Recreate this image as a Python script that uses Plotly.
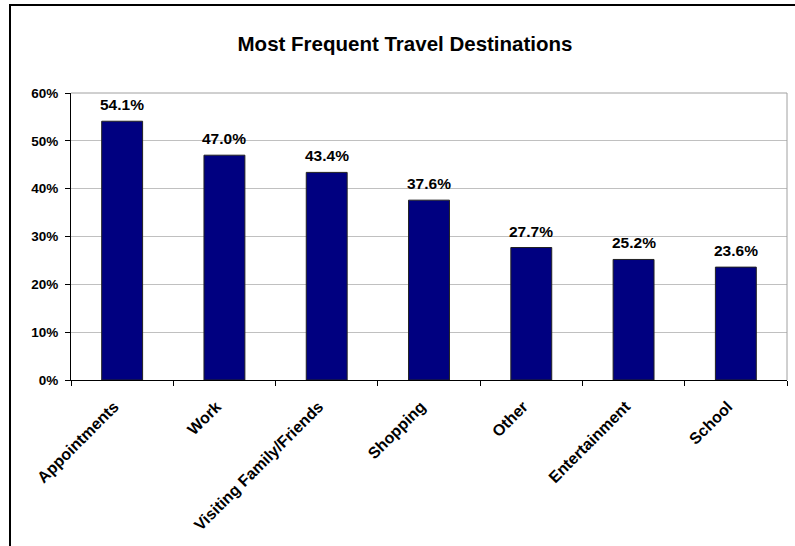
import plotly.graph_objects as go

categories = ["Appointments", "Work", "Visiting Family/Friends", "Shopping", "Other", "Entertainment", "School"]
values = [0.541, 0.470, 0.434, 0.376, 0.277, 0.252, 0.236]
value_labels = ["54.1%", "47.0%", "43.4%", "37.6%", "27.7%", "25.2%", "23.6%"]
y_tickvals = [0, 0.1, 0.2, 0.3, 0.4, 0.5, 0.6]
y_ticktext = ["0%", "10%", "20%", "30%", "40%", "50%", "60%"]

W, H = 795, 546
L, R, T, B = 71, 8, 93, 166
pw, ph = W - L - R, H - T - B

FONT = "Arial, Liberation Sans, sans-serif"

fig = go.Figure(go.Bar(
    x=categories, y=values,
    width=0.4,
    marker=dict(color="#000080", line=dict(color="#222222", width=1)),
))

for c, v, t in zip(categories, values, value_labels):
    fig.add_annotation(x=c, y=v, text=t, showarrow=False, yanchor="bottom",
                       yshift=6, xanchor="center",
                       font=dict(family=FONT, size=15.5, color="black", weight="bold"))

fig.update_layout(
    width=W, height=H,
    margin=dict(l=L, r=R, t=T, b=B),
    paper_bgcolor="white", plot_bgcolor="white",
    showlegend=False,
    title=dict(text="Most Frequent Travel Destinations", x=(236 + 574) / 2 / W, xanchor="center",
               y=1 - 44 / H, yanchor="middle",
               font=dict(family=FONT, size=20.5, color="black", weight="bold")),
    font=dict(family=FONT, color="black"),
)

fig.update_xaxes(
    type="category", tickangle=-45,
    tickfont=dict(family=FONT, size=16, color="black", weight="bold"),
    ticks="outside", tickson="boundaries", ticklen=5, tickcolor="black",
    ticklabelstandoff=10, ticklabelshift=-8,
    showline=True, linecolor="black", linewidth=1,
    mirror=False, showgrid=False,
)
fig.update_yaxes(
    range=[0, 0.6], tickvals=y_tickvals, ticktext=y_ticktext,
    tickfont=dict(family=FONT, size=13.5, color="black", weight="bold"),
    ticks="outside", ticklen=5, tickcolor="black", ticklabelstandoff=4,
    showline=True, linecolor="black", linewidth=1,
    showgrid=True, gridcolor="#c0c0c0", gridwidth=1,
    zeroline=False,
)

# light gray plot-area border on top and right
fig.add_shape(type="line", xref="paper", yref="paper", x0=0, x1=1, y0=1, y1=1,
              line=dict(color="#a0a0a0", width=1))
fig.add_shape(type="line", xref="paper", yref="paper", x0=1, x1=1, y0=0, y1=1,
              line=dict(color="#a0a0a0", width=1))

# outer chart frame (left and top edges visible)
fx0 = (10 - L) / pw
fy1 = (H - B - 5) / ph
fig.add_shape(type="rect", xref="paper", yref="paper",
              x0=fx0, x1=1.5, y0=-2, y1=fy1,
              line=dict(color="black", width=2), layer="above")

fig.write_html("out.html", config={"displayModeBar": False},
               post_script="document.body.style.margin='0';")
